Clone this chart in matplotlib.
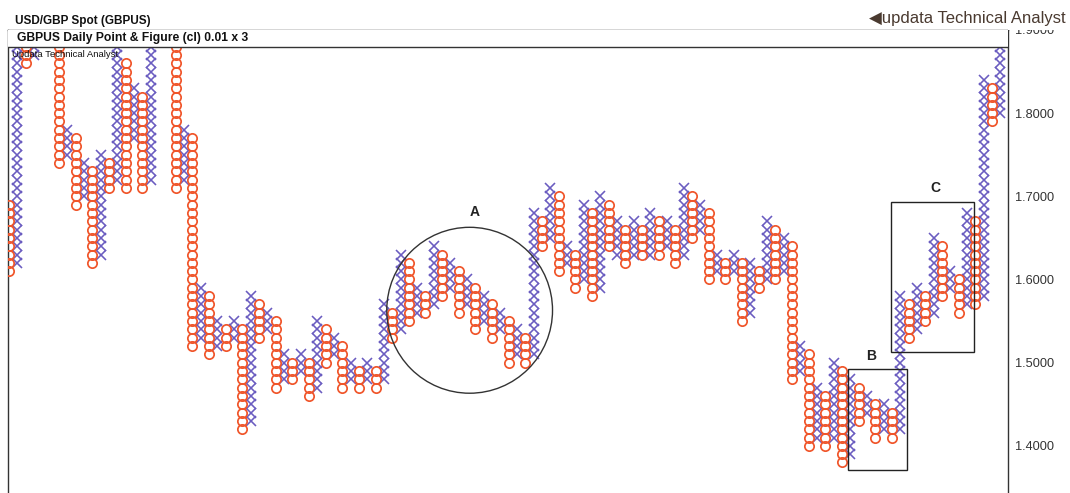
import numpy as np
import matplotlib
matplotlib.use("Agg")
import matplotlib.pyplot as plt
from matplotlib.patches import Ellipse, Rectangle

plt.rcParams['font.family'] = ['Liberation Sans', 'DejaVu Sans']

# point & figure columns, box size 0.01, first column is an O column, then they alternate
box = 0.01
col_low = [1.61, 1.62, 1.86, 1.87, 1.90, 1.91, 1.74, 1.75, 1.69, 1.70,
           1.62, 1.63, 1.71, 1.72, 1.71, 1.77, 1.71, 1.72, 1.89, 1.90,
           1.71, 1.72, 1.52, 1.53, 1.51, 1.52, 1.52, 1.53, 1.42, 1.43,
           1.53, 1.54, 1.47, 1.48, 1.48, 1.49, 1.46, 1.47, 1.50, 1.51,
           1.47, 1.48, 1.47, 1.48, 1.47, 1.48, 1.53, 1.54, 1.55, 1.56,
           1.56, 1.57, 1.58, 1.59, 1.56, 1.57, 1.54, 1.55, 1.53, 1.54,
           1.50, 1.51, 1.50, 1.51, 1.64, 1.65, 1.61, 1.62, 1.59, 1.60,
           1.58, 1.59, 1.64, 1.63, 1.62, 1.63, 1.63, 1.63, 1.63, 1.64,
           1.62, 1.63, 1.65, 1.66, 1.60, 1.61, 1.60, 1.61, 1.55, 1.56,
           1.59, 1.60, 1.60, 1.61, 1.48, 1.49, 1.40, 1.41, 1.40, 1.41,
           1.38, 1.39, 1.43, 1.44, 1.41, 1.42, 1.41, 1.42, 1.53, 1.54,
           1.55, 1.56, 1.58, 1.59, 1.56, 1.57, 1.57, 1.58, 1.79, 1.80]
col_high = [1.69, 1.90, 1.89, 1.95, 1.94, 1.97, 1.96, 1.78, 1.77, 1.74,
            1.73, 1.75, 1.74, 1.88, 1.86, 1.83, 1.82, 1.91, 1.92, 1.95,
            1.94, 1.78, 1.77, 1.59, 1.58, 1.55, 1.54, 1.55, 1.54, 1.58,
            1.57, 1.56, 1.55, 1.51, 1.50, 1.51, 1.50, 1.55, 1.54, 1.53,
            1.52, 1.50, 1.49, 1.50, 1.49, 1.57, 1.56, 1.63, 1.62, 1.59,
            1.58, 1.64, 1.63, 1.62, 1.61, 1.60, 1.59, 1.58, 1.57, 1.56,
            1.55, 1.54, 1.53, 1.68, 1.67, 1.71, 1.70, 1.64, 1.63, 1.69,
            1.68, 1.70, 1.69, 1.67, 1.66, 1.67, 1.66, 1.68, 1.67, 1.67,
            1.66, 1.71, 1.70, 1.69, 1.68, 1.63, 1.62, 1.63, 1.62, 1.62,
            1.61, 1.67, 1.66, 1.65, 1.64, 1.52, 1.51, 1.47, 1.46, 1.50,
            1.49, 1.48, 1.47, 1.46, 1.45, 1.45, 1.44, 1.58, 1.57, 1.59,
            1.58, 1.65, 1.64, 1.61, 1.60, 1.68, 1.67, 1.84, 1.83, 1.88]
price_ticks = [1.4, 1.5, 1.6, 1.7, 1.8, 1.9]

x_col = '#6a5cc0'
o_col = '#f0552a'

fig = plt.figure(figsize=(10.7, 4.93), dpi=100)
ax = fig.add_axes([8/1070, 0, 1000/1070, 463/493])

xs_x, ys_x, xs_o, ys_o = [], [], [], []
for i, (lo, hi) in enumerate(zip(col_low, col_high)):
    n = int(round((hi - lo) / box)) + 1
    prices = lo + box * np.arange(n)
    if i % 2 == 0:
        xs_o += [i] * n
        ys_o += list(prices)
    else:
        xs_x += [i] * n
        ys_x += list(prices)

ax.plot(xs_x, ys_x, ls='none', marker='x', ms=7.0, mew=1.15, color=x_col, zorder=2)
ax.plot(xs_o, ys_o, ls='none', marker='o', ms=6.7, mew=1.25, mec=o_col, mfc='none', zorder=3)

ax.set_xlim(-0.12, 119.93)
ax.set_ylim(1.34327, 1.89976)

# annotations
ax.add_patch(Ellipse((55.3, 1.563), 19.9, 0.1995, fill=False, ec='#333333', lw=1.0, zorder=4))
ax.text(55.9, 1.681, 'A', ha='center', va='center', fontsize=10, fontweight='bold', color='#222222')
ax.add_patch(Rectangle((100.7, 1.3709), 7.1, 1.4923 - 1.3709, fill=False, ec='#222222', lw=1.0, zorder=4))
ax.text(103.5, 1.508, 'B', ha='center', va='center', fontsize=10, fontweight='bold', color='#222222')
ax.add_patch(Rectangle((105.9, 1.5127), 9.9, 1.693 - 1.5127, fill=False, ec='#222222', lw=1.0, zorder=4))
ax.text(111.2, 1.71, 'C', ha='center', va='center', fontsize=10, fontweight='bold', color='#222222')

# title band inside the frame
band_y = (493 - 47) / 463
ax.add_patch(Rectangle((0, band_y), 1, 1 - band_y, transform=ax.transAxes,
                       fc='white', ec='none', zorder=5, clip_on=False))
ax.axhline(1.8 + (113 - 47) / 832, color='#333333', lw=1.0, zorder=6)
ax.text(0.009, (1 + band_y) / 2, 'GBPUS Daily Point & Figure (cl) 0.01 x 3', transform=ax.transAxes,
        va='center', ha='left', fontsize=8.7, fontweight='bold', color='#111111', zorder=7)
ax.text(0.004, band_y - 0.017, 'Updata Technical Analyst', transform=ax.transAxes,
        va='center', ha='left', fontsize=6.8, color='#111111', zorder=7)

ax.yaxis.tick_right()
ax.set_yticks(price_ticks)
ax.set_yticklabels(['%.4f' % p for p in price_ticks])
ax.tick_params(axis='y', length=0, pad=5, labelsize=9.2, labelcolor='#333333')
ax.set_xticks([])
ax.spines['bottom'].set_visible(False)
for s in ['left', 'right', 'top']:
    ax.spines[s].set_color('#333333')
    ax.spines[s].set_linewidth(1.0)

# header above the frame (also hides the top half of the 1.9000 label)
fig.add_artist(Rectangle((1008/1070, 463/493), 62/1070, 30/493, transform=fig.transFigure,
                         fc='white', ec='none', zorder=5))
fig.text(15/1070, 1 - 21/493, 'USD/GBP Spot (GBPUS)', ha='left', va='center',
         fontsize=8.5, fontweight='bold', color='#111111', zorder=6)
fig.text(1066/1070, 1 - 19/493, '\u25c0updata Technical Analyst', ha='right', va='center',
         fontsize=12, color='#4a3a30', zorder=6)

fig.savefig('out.png', dpi=100)
